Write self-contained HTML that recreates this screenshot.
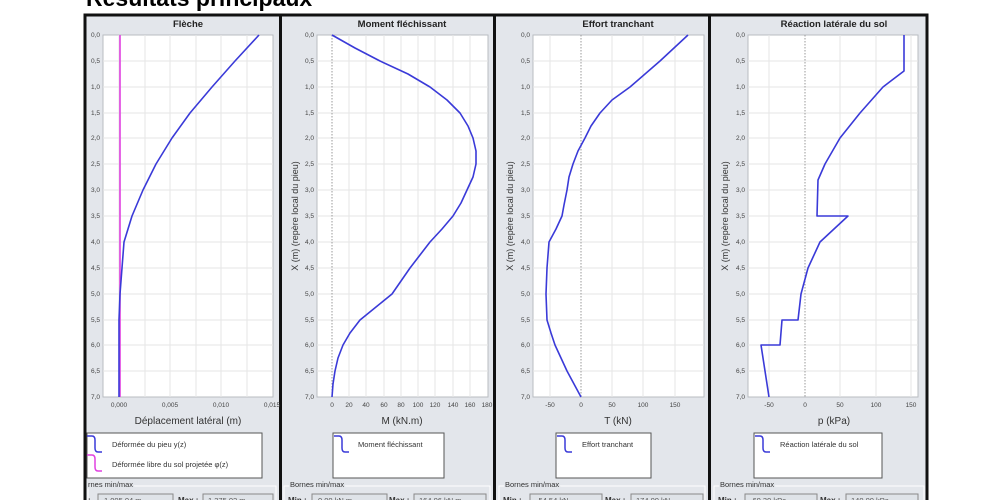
<!DOCTYPE html>
<html><head><meta charset="utf-8"><style>
html,body{margin:0;padding:0;background:#fff;width:1000px;height:500px;overflow:hidden}
svg{display:block;font-family:"Liberation Sans","DejaVu Sans",sans-serif}
</style></head><body>
<svg width="1000" height="500" viewBox="0 0 1000 500" xmlns="http://www.w3.org/2000/svg">
<text x="86" y="6" font-size="23" font-weight="bold" fill="#000">Résultats principaux</text>
<!-- frame -->
<rect x="85" y="15" width="842" height="490" fill="#e3e6eb" stroke="#111" stroke-width="3"/>
<rect x="279" y="15" width="3" height="490" fill="#111"/>
<rect x="493" y="15" width="3" height="490" fill="#111"/>
<rect x="708" y="15" width="3" height="490" fill="#111"/>
<g font-size="9.5" font-weight="bold" text-anchor="middle" fill="#222">
<text x="188" y="27">Flèche</text>
<text x="402" y="27">Moment fléchissant</text>
<text x="618" y="27">Effort tranchant</text>
<text x="834" y="27">Réaction latérale du sol</text>
</g>
<!-- plot areas -->
<g fill="#fff" stroke="#b8bcc2" stroke-width="1">
<rect x="103" y="35" width="170" height="362"/>
<rect x="317" y="35" width="171" height="362"/>
<rect x="533" y="35" width="171" height="362"/>
<rect x="748" y="35" width="170" height="362"/>
</g>
<!-- horizontal grid -->
<g stroke="#e6e6e6" stroke-width="1">
<path d="M103 61H273M103 87H273M103 113H273M103 138H273M103 164H273M103 190H273M103 216H273M103 242H273M103 268H273M103 294H273M103 320H273M103 345H273M103 371H273"/>
<path d="M317 61H488M317 87H488M317 113H488M317 138H488M317 164H488M317 190H488M317 216H488M317 242H488M317 268H488M317 294H488M317 320H488M317 345H488M317 371H488"/>
<path d="M533 61H704M533 87H704M533 113H704M533 138H704M533 164H704M533 190H704M533 216H704M533 242H704M533 268H704M533 294H704M533 320H704M533 345H704M533 371H704"/>
<path d="M748 61H918M748 87H918M748 113H918M748 138H918M748 164H918M748 190H918M748 216H918M748 242H918M748 268H918M748 294H918M748 320H918M748 345H918M748 371H918"/>
<path d="M119 35V397M170 35V397M221 35V397M145 35V397M196 35V397M247 35V397"/>
<path d="M349 35V397M366 35V397M384 35V397M401 35V397M418 35V397M435 35V397M453 35V397M470 35V397"/>
<path d="M550 35V397M612 35V397M643 35V397M675 35V397"/>
<path d="M769 35V397M840 35V397M876 35V397M911 35V397"/>
</g>
<g stroke="#999" stroke-width="1" stroke-dasharray="1.5,1.5">
<path d="M332 35V397M581 35V397M805 35V397"/>
</g>
<!-- y tick labels -->
<g font-size="6.5" fill="#444" text-anchor="end">
<g id="yt">
<text x="100" y="37">0,0</text><text x="100" y="63">0,5</text><text x="100" y="89">1,0</text><text x="100" y="115">1,5</text><text x="100" y="140">2,0</text><text x="100" y="166">2,5</text><text x="100" y="192">3,0</text><text x="100" y="218">3,5</text><text x="100" y="244">4,0</text><text x="100" y="270">4,5</text><text x="100" y="296">5,0</text><text x="100" y="322">5,5</text><text x="100" y="347">6,0</text><text x="100" y="373">6,5</text><text x="100" y="399">7,0</text>
</g>
<use href="#yt" x="214"/><use href="#yt" x="430"/><use href="#yt" x="645"/>
</g>
<!-- x tick labels -->
<g font-size="6.5" fill="#444" text-anchor="middle">
<text x="119" y="407">0,000</text><text x="170" y="407">0,005</text><text x="221" y="407">0,010</text><text x="272" y="407">0,015</text>
<text x="332" y="407">0</text><text x="349" y="407">20</text><text x="366" y="407">40</text><text x="384" y="407">60</text><text x="401" y="407">80</text><text x="418" y="407">100</text><text x="435" y="407">120</text><text x="453" y="407">140</text><text x="470" y="407">160</text><text x="487" y="407">180</text>
<text x="550" y="407">-50</text><text x="581" y="407">0</text><text x="612" y="407">50</text><text x="643" y="407">100</text><text x="675" y="407">150</text>
<text x="769" y="407">-50</text><text x="805" y="407">0</text><text x="840" y="407">50</text><text x="876" y="407">100</text><text x="911" y="407">150</text>
</g>
<g font-size="10" fill="#333" text-anchor="middle">
<text x="188" y="424">Déplacement latéral (m)</text>
<text x="402" y="424">M (kN.m)</text>
<text x="618" y="424">T (kN)</text>
<text x="834" y="424">p (kPa)</text>
</g>
<g font-size="9" fill="#333" text-anchor="middle">
<text transform="translate(298,216) rotate(-90)">X (m) (repère local du pieu)</text>
<text transform="translate(513,216) rotate(-90)">X (m) (repère local du pieu)</text>
<text transform="translate(728,216) rotate(-90)">X (m) (repère local du pieu)</text>
</g>
<!-- series -->
<g fill="none" stroke-width="1.6" stroke-linejoin="round">
<path d="M120 35V397" stroke="#e040e0"/>
<polyline stroke="#3a3ad8" points="259,35 235,61 212,87 190,113 172,138 156,164 143,190 132,216 124,242 122,268 120,294 119,320 119,397"/>
<polyline stroke="#3a3ad8" points="332,35 355,48 380,61 408,74 430,87 447,100 460,113 468,126 473,138 476,151 476,164 473,177 467,190 461,203 453,216 442,229 430,242 420,255 410,268 401,281 392,294 376,307 360,320 350,333 343,345 338,358 335,371 333,384 332,397"/>
<polyline stroke="#3a3ad8" points="688,35 660,61 630,87 612,100 600,113 591,126 585,138 578,151 573,164 569,177 567,190 564,205 562,216 556,229 549,242 547,268 546,294 547,320 551,333 555,345 561,358 567,371 574,384 581,397"/>
<polyline stroke="#3a3ad8" points="904,35 904,71 883,87 860,113 840,138 825,164 818,180 817,216 848,216 834,229 820,242 808,268 801,294 798,320 782,320 780,345 761,345 765,371 769,397"/>
</g>
<!-- legends -->
<g fill="#fff" stroke="#555" stroke-width="1">
<rect x="87" y="433" width="175" height="45"/>
<rect x="333" y="433" width="111" height="45"/>
<rect x="556" y="433" width="95" height="45"/>
<rect x="754" y="433" width="128" height="45"/>
</g>
<g fill="none" stroke-width="1.5">
<path d="M87 436h5q3 0 3 4v8q0 4 3 4h4" stroke="#3a3ad8"/>
<path d="M87 455h5q3 0 3 4v8q0 4 3 4h4" stroke="#e040e0"/>
<path d="M334 436h5q3 0 3 4v8q0 4 3 4h4" stroke="#3a3ad8"/>
<path d="M557 436h5q3 0 3 4v8q0 4 3 4h4" stroke="#3a3ad8"/>
<path d="M755 436h5q3 0 3 4v8q0 4 3 4h4" stroke="#3a3ad8"/>
</g>
<g font-size="7.5" fill="#333">
<text x="112" y="447">Déformée du pieu y(z)</text>
<text x="112" y="467">Déformée libre du sol projetée φ(z)</text>
<text x="358" y="447">Moment fléchissant</text>
<text x="582" y="447">Effort tranchant</text>
<text x="780" y="447">Réaction latérale du sol</text>
</g>
<!-- bornes -->
<g fill="none" stroke="#fff" stroke-width="1">
<rect x="88" y="486" width="188" height="20"/>
<rect x="284" y="486" width="206" height="20"/>
<rect x="499" y="486" width="206" height="20"/>
<rect x="714" y="486" width="210" height="20"/>
</g>
<g font-size="7.5" fill="#333">
<text x="88" y="487" stroke="#e3e6eb" stroke-width="3" paint-order="stroke">rnes min/max</text>
<text x="290" y="487" stroke="#e3e6eb" stroke-width="3" paint-order="stroke">Bornes min/max</text>
<text x="505" y="487" stroke="#e3e6eb" stroke-width="3" paint-order="stroke">Bornes min/max</text>
<text x="720" y="487" stroke="#e3e6eb" stroke-width="3" paint-order="stroke">Bornes min/max</text>
</g>
<g fill="#dfe3e8" stroke="#888" stroke-width="1">
<rect x="98" y="494" width="75" height="12"/><rect x="203" y="494" width="70" height="12"/>
<rect x="312" y="494" width="75" height="12"/><rect x="414" y="494" width="72" height="12"/>
<rect x="530" y="494" width="72" height="12"/><rect x="631" y="494" width="72" height="12"/>
<rect x="745" y="494" width="72" height="12"/><rect x="846" y="494" width="72" height="12"/>
</g>
<g font-size="8" fill="#333" font-weight="bold">
<text x="88" y="503">:</text><text x="178" y="503">Max :</text>
<text x="288" y="503">Min :</text><text x="389" y="503">Max :</text>
<text x="503" y="503">Min :</text><text x="605" y="503">Max :</text>
<text x="718" y="503">Min :</text><text x="820" y="503">Max :</text>
</g>
<g font-size="7.5" fill="#555">
<text x="104" y="503">1.005,04 m</text><text x="208" y="503">1.375,02 m</text>
<text x="318" y="503">0,00 kN.m</text><text x="419" y="503">164,06 kN.m</text>
<text x="536" y="503">-54,54 kN</text><text x="636" y="503">174,00 kN</text>
<text x="750" y="503">-60,39 kPa</text><text x="851" y="503">140,00 kPa</text>
</g>
</svg>
</body></html>
